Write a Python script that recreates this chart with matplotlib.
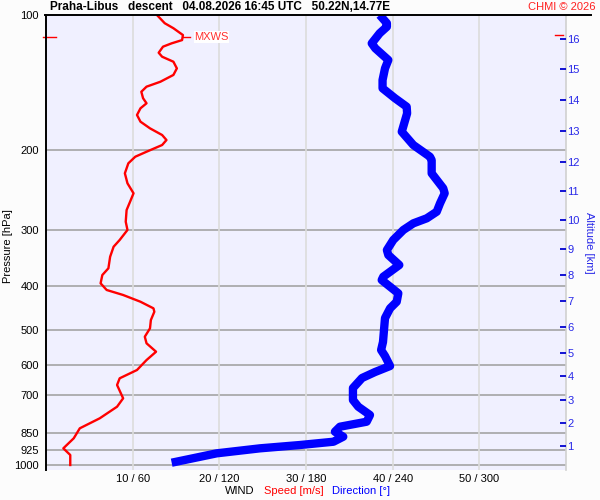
import numpy as np
import matplotlib.pyplot as plt
from matplotlib.ticker import NullLocator
from matplotlib.lines import Line2D
from matplotlib.transforms import blended_transform_factory

plt.rcParams['font.family'] = ['Liberation Sans', 'DejaVu Sans']

# wind speed profile [m/s] vs pressure [hPa]
speed_p = [100, 104.3, 107.0, 110.8, 113.7, 115.6, 117.6, 121.3, 123.8, 127.0,
           131.4, 135.9, 140.7, 144.3, 148.1, 153.1, 157.1, 161.2, 166.8, 172.6,
           178.6, 184.8, 189.6, 194.5, 201.3, 206.5, 213.6, 224.8, 236.6, 249.0,
           260.0, 271.3, 288.0, 300.4, 316.2, 327.3, 344.5, 365.5, 378.3, 394.7,
           408.4, 419.0, 433.7, 448.6, 456.5, 476.3, 496.9, 518.7, 536.5, 560.1,
           584.5, 615.0, 641.7, 664.1, 710.9, 742.1, 787.5, 828.8, 872.3, 918.2,
           950.1, 991.3, 1000]
speed = [12.8, 13.7, 14.7, 15.8, 15.7, 14.5, 13.5, 13.0, 13.4, 14.7,
         15.1, 14.7, 13.2, 11.6, 11.0, 11.2, 11.6, 10.9, 10.5, 10.9,
         12.0, 13.4, 13.9, 13.4, 11.6, 10.3, 9.5, 9.1, 9.4, 10.1,
         9.7, 9.3, 9.2, 9.4, 8.5, 7.8, 7.4, 7.2, 6.5, 6.3,
         7.0, 8.9, 10.9, 12.4, 12.5, 12.1, 12.0, 11.4, 11.6, 12.7,
         11.6, 10.5, 8.5, 8.2, 8.9, 8.2, 6.2, 3.9, 3.2, 2.0,
         2.8, 2.8, 2.8]

# wind direction profile [deg] vs pressure [hPa]
dir_p = [100, 104.3, 106.2, 109.8, 115.6, 118.6, 125.9, 131.4, 139.5, 145.5,
         153.1, 159.9, 165.4, 181.7, 194.5, 206.5, 210.1, 224.8, 242.7, 249.0,
         262.1, 273.6, 283.0, 290.4, 300.4, 316.2, 332.9, 341.5, 359.4, 381.6,
         388.1, 415.4, 433.7, 448.6, 471.5, 501.2, 533.0, 555.2, 572.6, 602.6,
         621.4, 640.7, 674.5, 717.1, 742.1, 774.3, 801.3, 822.1, 843.4, 865.2,
         887.7, 902.8, 918.2, 942.0, 988.3]
direction = [231, 236, 236, 231, 225.5, 228, 237, 234.7, 233, 233,
             241.6, 249.7, 250, 246.3, 254.3, 265.8, 267, 267, 275, 276,
             272.8, 270.5, 263.6, 254.3, 247.4, 240.4, 236, 237, 244.6, 233.5,
             232.4, 243.9, 242.8, 238.2, 234.7, 234, 233.3, 232, 234.7, 238.2,
             227.8, 218.8, 212.5, 212.5, 216.2, 224.3, 222, 203.5, 200, 205.8,
             199, 175.8, 148.2, 118.2, 87]

# max wind level
mxws_p = 111.9
mxws_speed = 15.8

p_levels = [100, 200, 300, 400, 500, 600, 700, 850, 925, 1000]
speed_ticks = [10, 20, 30, 40, 50]
speed_labels = ['10 / 60', '20 / 120', '30 / 180', '40 / 240', '50 / 300']

# altitude [km] marks at pressure [hPa]
alt_km = [1, 2, 3, 4, 5, 6, 7, 8, 9, 10, 11, 12, 13, 14, 15, 16]
alt_p = [908.8, 806.6, 718.2, 635.2, 563.0, 494.3, 432.8, 378.8, 331.1, 285.5,
         246.5, 211.8, 180.8, 154.5, 132.0, 113.2]

fig = plt.figure(figsize=(6, 5), dpi=100, facecolor='#FCFCFC')
W, H = 600, 500
ax = fig.add_axes([46 / W, 1 - 470 / H, 520 / W, 455 / H], facecolor='#F0F0FF')

p_bot = 100 * 10 ** (455 / 450)
ax.set_yscale('log')
ax.set_ylim(p_bot, 100)
ax.set_xlim(0, 60)
ax.yaxis.set_minor_locator(NullLocator())
ax.set_yticks(p_levels)
ax.set_yticklabels([str(p) for p in p_levels], fontsize=8)
ax.set_xticks(speed_ticks)
ax.set_xticklabels(speed_labels, fontsize=8)
ax.tick_params(axis='both', length=0)
ax.tick_params(axis='y', pad=5)
ax.tick_params(axis='x', pad=3)

for p in p_levels[1:]:
    ax.axhline(p, color='#A4A4A4', lw=1.2, zorder=1)
for s in speed_ticks:
    ax.axvline(s, color='#DCDCDC', lw=1.2, zorder=1)

for side in ['top', 'bottom']:
    ax.spines[side].set_visible(False)
ax.spines['left'].set_color('black')
ax.spines['left'].set_linewidth(1.4)
ax.spines['right'].set_color('#D0D0D0')
ax.spines['right'].set_linewidth(1.2)

ax.plot(speed, speed_p, color='#FF0000', lw=1.7, zorder=3)

# MXWS marker
ax.plot([mxws_speed, mxws_speed + 0.8], [mxws_p, mxws_p], color='#FF0000', lw=1, zorder=3)
ax.text(mxws_speed + 1.3, mxws_p, 'MXWS', color='#FF3030', fontsize=8, va='center',
        ha='left', bbox=dict(facecolor='white', edgecolor='none', pad=0.5), zorder=4)
tr = blended_transform_factory(ax.transAxes, ax.transData)
ax.plot([-0.006, 0.019], [mxws_p, mxws_p], color='#FF0000', lw=1, transform=tr, clip_on=False)
ax.plot([0.979, 0.994], [mxws_p * 0.99, mxws_p * 0.99], color='#FF0000', lw=1, transform=tr,
        clip_on=False, zorder=5)

# direction on its own x scale
ax_dir = ax.twiny()
ax_dir.set_xlim(0, 360)
ax_dir.set_xticks([])
for side in ax_dir.spines:
    ax_dir.spines[side].set_visible(False)
ax_dir.plot(direction, dir_p, color='#0000FF', lw=6, solid_capstyle='butt', zorder=3)

# altitude axis on the right
ax_alt = ax.twinx()
ax_alt.set_yscale('log')
ax_alt.set_ylim(p_bot, 100)
ax_alt.yaxis.set_minor_locator(NullLocator())
ax_alt.set_yticks(alt_p)
ax_alt.set_yticklabels([str(a) for a in alt_km], fontsize=8, color='#2828E8')
ax_alt.tick_params(axis='y', direction='in', length=4.5, width=1.3, color='#0000D0', pad=1)
for side in ax_alt.spines:
    ax_alt.spines[side].set_visible(False)
ax_alt.set_ylabel('Altitude [km]', rotation=270, color='#2828E8', fontsize=8, labelpad=10)

fig.text(8 / W, 1 - 246 / H, 'Pressure [hPa]', fontsize=8, rotation=90, va='center', ha='center')

# header
fig.add_artist(Line2D([45 / W, 591 / W], [1 - 15 / H, 1 - 15 / H], color='black', lw=1.4))
fig.text(50 / W, 1 - 7 / H, 'Praha-Libus   descent   04.08.2026 16:45 UTC   50.22N,14.77E',
         fontsize=8.5, fontweight='bold', va='center', ha='left')
fig.text(595 / W, 1 - 7 / H, 'CHMI \u00a9 2026', fontsize=8, color='#FF2020', va='center', ha='right')

# footer
fig.text(225 / W, 1 - 491 / H, 'WIND', fontsize=8, va='center', ha='left')
fig.text(264 / W, 1 - 491 / H, 'Speed [m/s]', fontsize=8, color='#FF0000', va='center', ha='left')
fig.text(332 / W, 1 - 491 / H, 'Direction [\u00b0]', fontsize=8, color='#0000FF', va='center', ha='left')

fig.savefig('out.png', dpi=100, facecolor=fig.get_facecolor())
